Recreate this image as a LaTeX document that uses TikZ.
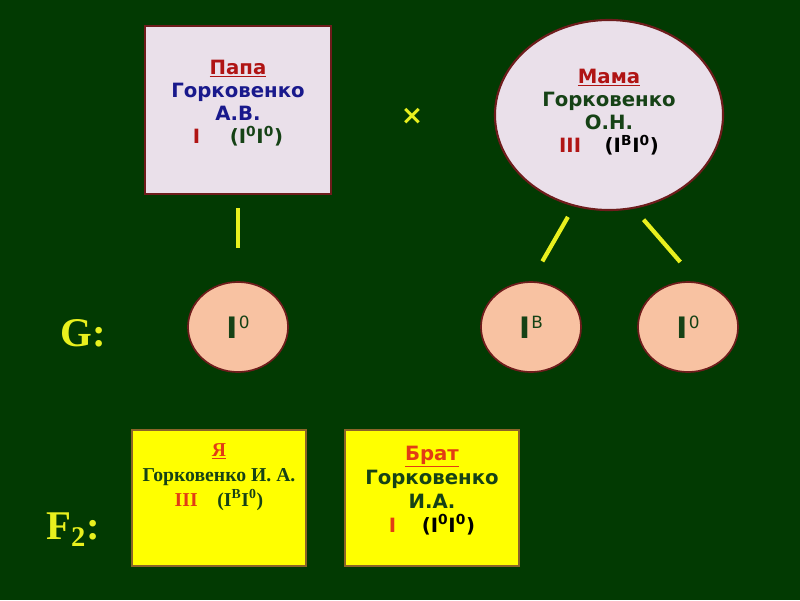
\documentclass[tikz,border=0pt]{standalone}
\usepackage{fontspec}
\setmainfont{Liberation Serif}
\setsansfont{DejaVu Sans}
\usetikzlibrary{shapes.geometric}

\definecolor{board}{RGB}{2,58,2}
\definecolor{lilac}{RGB}{234,224,234}
\definecolor{rim}{RGB}{110,28,28}
\definecolor{salmon}{RGB}{248,194,162}
\definecolor{tag}{RGB}{176,20,20}
\definecolor{navy}{RGB}{25,25,140}
\definecolor{leaf}{RGB}{22,66,22}
\definecolor{lemon}{RGB}{255,255,0}
\definecolor{crust}{RGB}{140,100,40}
\definecolor{flame}{RGB}{226,60,20}
\definecolor{stroke}{RGB}{232,240,30}

\newcommand{\allele}[1]{\textbf{I}\kern1pt\raisebox{7pt}{\fontsize{12}{13}\selectfont #1}}

\begin{document}
\begin{tikzpicture}[
    x=0.025cm, y=-0.025cm,
    parent/.style={draw=rim, line width=1.5pt, fill=lilac, align=center,
                   font=\sffamily\bfseries\fontsize{14}{16.5}\selectfont},
    gamete/.style={ellipse, draw=rim, line width=1.2pt, fill=salmon,
                   minimum width=2.5cm, minimum height=2.25cm, inner sep=0pt,
                   text=leaf, font=\sffamily\fontsize{21}{22}\selectfont},
    child/.style={rectangle, draw=crust, line width=1.5pt, fill=lemon,
                  minimum width=4.35cm, minimum height=3.4cm, align=center},
    gline/.style={draw=stroke, line width=3pt},
    genlabel/.style={text=stroke, font=\rmfamily\bfseries\fontsize{29}{30}\selectfont},
]
    \fill[board] (0,0) rectangle (800,600);

    % parents
    \node[parent, rectangle, minimum width=4.65cm, minimum height=4.2cm, text depth=0.4cm]
        (papa) at (238,110)
        {\textcolor{tag}{\underline{Папа}}\\
         \textcolor{navy}{Горковенко}\\
         \textcolor{navy}{А.В.}\\
         \textcolor{tag}{I}\hspace{1.5em}\textcolor{leaf}{(I\textsuperscript{0}I\textsuperscript{0})}};
    \node[parent, ellipse, minimum width=5.7cm, minimum height=4.75cm, inner sep=0pt, text depth=0.2cm]
        (mama) at (609,115)
        {\textcolor{tag}{\underline{Мама}}\\
         \textcolor{leaf}{Горковенко}\\
         \textcolor{leaf}{О.Н.}\\
         \textcolor{tag}{III}\hspace{1.2em}(I\textsuperscript{B}I\textsuperscript{0})};
    \node[text=stroke, font=\sffamily\bfseries\fontsize{19}{20}\selectfont] (cross) at (412,116) {×};

    % gametes
    \node[gamete] (g1) at (238,327) {\allele{0}};
    \node[gamete] (g2) at (531,327) {\allele{B}};
    \node[gamete] (g3) at (688,327) {\allele{0}};

    \draw[gline, shorten <=0.33cm, shorten >=0.83cm] (papa.south) -- (g1.north);
    \draw[gline, shorten <=0.3cm, shorten >=0.57cm] (mama.249) -- (g2.north);
    \draw[gline, shorten <=0.36cm, shorten >=0.66cm] (mama.285) -- (g3.78);

    % offspring
    \node[child, text depth=1.15cm, font=\rmfamily\bfseries\fontsize{14}{17.7}\selectfont]
        (me) at (219,498)
        {\textcolor{flame}{\underline{Я}}\\
         \textcolor{leaf}{Горковенко И. А.}\\
         \textcolor{flame}{III}\hspace{1em}\textcolor{leaf}{(I\textsuperscript{B}I\textsuperscript{0})}};
    \node[child, text depth=0.45cm, font=\sffamily\bfseries\fontsize{14}{17}\selectfont]
        (brat) at (432,498)
        {\textcolor{flame}{\underline{Брат}}\\
         \textcolor{leaf}{Горковенко}\\
         \textcolor{leaf}{И.А.}\\
         \textcolor{flame}{I}\hspace{1.3em}\textcolor{black}{(I\textsuperscript{0}I\textsuperscript{0})}};

    \node[genlabel] (glab) at (83,333) {G:};
    \node[genlabel] (flab) at (73,530) {F\textsubscript{2}:};
\end{tikzpicture}
\end{document}
